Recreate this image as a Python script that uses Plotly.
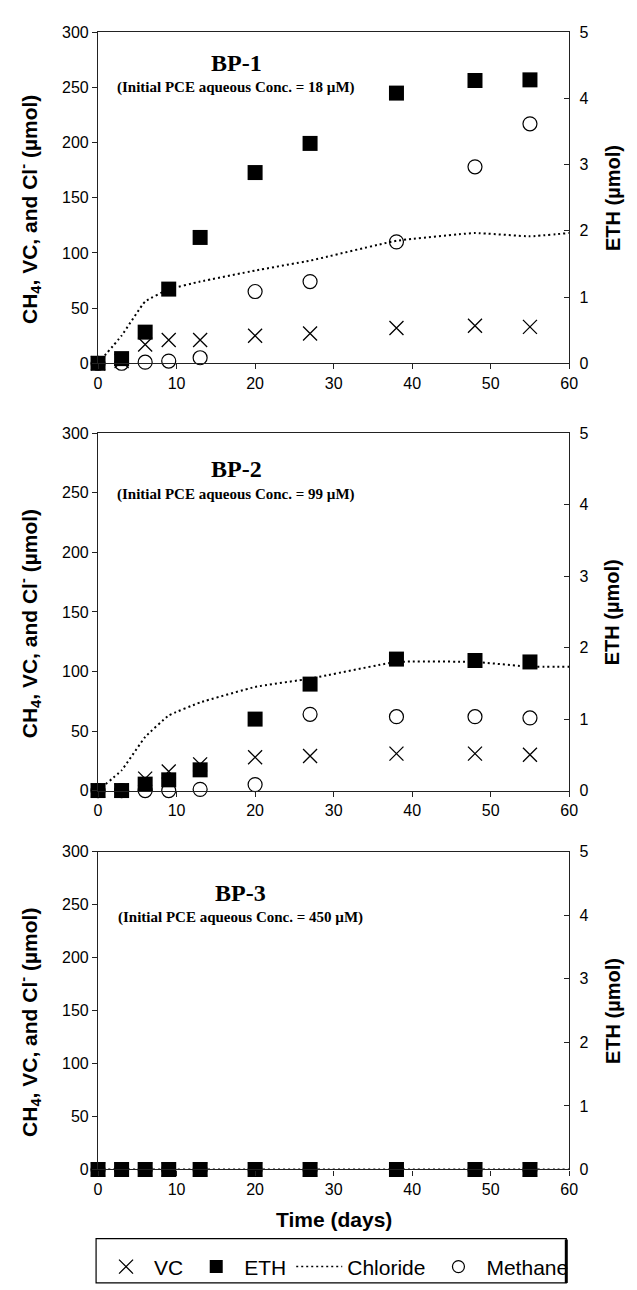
import plotly.graph_objects as go

# ---------------- data ----------------
days = [0, 3, 6, 9, 13, 20, 27, 38, 48, 55]
cl_days = [0, 3, 6, 9, 13, 20, 27, 38, 48, 55, 60]

bp1_vc = [0, 2, 17, 21, 21, 25, 27, 32, 34, 33]
bp1_eth = [0, 0.07, 0.47, 1.12, 1.90, 2.88, 3.32, 4.08, 4.27, 4.28]
bp1_cl = [0, 25, 56, 67, 74, 84, 93, 111, 118, 115, 118]
bp1_ch4 = [0, 0, 1, 2, 5, 65, 74, 110, 178, 217]

bp2_vc = [0, 0, 10, 16, 22, 28, 29, 31, 31, 30]
bp2_eth = [0, 0, 0.09, 0.15, 0.29, 1.00, 1.49, 1.84, 1.82, 1.80]
bp2_cl = [0, 17, 45, 63, 74, 87, 94, 108, 108, 104, 104]
bp2_ch4 = [0, 0, 0, 0, 1, 5, 64, 62, 62, 61]

bp3_vc = [0, 0, 0, 0, 0, 0, 0, 0, 0, 0]
bp3_eth = [0, 0, 0, 0, 0, 0, 0, 0, 0, 0]
bp3_cl = [0, 0, 0, 0, 0, 0, 0, 0, 0, 0, 0]
bp3_ch4 = [0, 0, 0, 0, 0, 0, 0, 0, 0, 0]

panel_names = ["BP-1", "BP-2", "BP-3"]
panel_conc = ["18", "99", "450"]
left_ticks = [0, 50, 100, 150, 200, 250, 300]
right_ticks = [0, 1, 2, 3, 4, 5]
x_ticks = [0, 10, 20, 30, 40, 50, 60]

panels = [
    (bp1_vc, bp1_eth, bp1_cl, bp1_ch4),
    (bp2_vc, bp2_eth, bp2_cl, bp2_ch4),
    (bp3_vc, bp3_eth, bp3_cl, bp3_ch4),
]

# ---------------- layout geometry (pixels) ----------------
W, H = 637, 1290
x_left, x_right = 96, 577
panel_px = [(24.5, 360), (431, 793), (855, 1177)]
title_x = [17.6, 17.6, 18.2]
title_y = [272, 270, 261]
sub_y = [250, 249, 238]

SANS = "Liberation Sans, Arial, sans-serif"
SERIF = "Liberation Serif, Times New Roman, serif"
AXC = "#222222"

fig = go.Figure()
layout = dict(
    width=W, height=H,
    margin=dict(l=0, r=0, t=0, b=0),
    paper_bgcolor="white", plot_bgcolor="white",
    showlegend=True,
    font=dict(family=SANS, size=16, color="black"),
)
annotations = []

for i, (vc, eth, cl, ch4) in enumerate(panels):
    xa = "x" if i == 0 else f"x{i+1}"
    yl = f"y{2*i+1}" if i > 0 else "y"
    yr = f"y{2*i+2}"
    xkey = "xaxis" if i == 0 else f"xaxis{i+1}"
    ylkey = "yaxis" if i == 0 else f"yaxis{2*i+1}"
    yrkey = f"yaxis{2*i+2}"
    top, bot = panel_px[i]
    dom = [1 - bot / H, 1 - top / H]
    show = (i == 0)

    fig.add_trace(go.Scatter(
        x=days, y=vc, xaxis=xa, yaxis=yl, mode="markers", name="VC",
        legendgroup="vc", showlegend=show, cliponaxis=False,
        marker=dict(symbol="x-thin-open", size=14, color="black",
                    line=dict(width=1.3, color="black"))))
    fig.add_trace(go.Scatter(
        x=cl_days, y=cl, xaxis=xa, yaxis=yl, mode="lines", name="Chloride",
        legendgroup="cl", showlegend=False, cliponaxis=False,
        line=dict(color="black", width=2, dash="2px,3px", shape="spline", smoothing=0.3)))
    fig.add_trace(go.Scatter(
        x=days, y=ch4, xaxis=xa, yaxis=yl, mode="markers", name="Methane",
        legendgroup="ch4", showlegend=False, cliponaxis=False,
        marker=dict(symbol="circle-open", size=14, color="black",
                    line=dict(width=1.2, color="black"))))
    fig.add_trace(go.Scatter(
        x=days, y=eth, xaxis=xa, yaxis=yr, mode="markers", name="ETH",
        legendgroup="eth", showlegend=False, cliponaxis=False,
        marker=dict(symbol="square", size=15, color="black",
                    line=dict(width=0))))

    layout[xkey] = dict(
        domain=[x_left / W, x_right / W], anchor=yl, range=[0, 60],
        tickvals=x_ticks, ticks="outside", ticklen=5, tickwidth=1.2, tickcolor=AXC,
        showline=True, linecolor=AXC, linewidth=1.3, mirror=True,
        showgrid=False, zeroline=False, tickfont=dict(size=16, family=SANS))
    layout[ylkey] = dict(
        domain=dom, anchor=xa, range=[0, 300],
        tickvals=left_ticks, ticks="outside", ticklen=5, tickwidth=1.2, tickcolor=AXC,
        showline=True, linecolor=AXC, linewidth=1.3,
        showgrid=False, zeroline=False, tickfont=dict(size=16, family=SANS))
    layout[yrkey] = dict(
        domain=dom, anchor=xa, overlaying=yl, side="right", range=[0, 5],
        tickvals=right_ticks, ticks="inside", ticklen=5, tickwidth=1.2, tickcolor=AXC,
        showline=True, linecolor=AXC, linewidth=1.3,
        showgrid=False, zeroline=False, tickfont=dict(size=16, family=SANS),
        ticklabelstandoff=6)

    mid = 1 - ((top + bot) / 2) / H
    annotations.append(dict(
        x=26 / W, y=mid - 12 / H, xref="paper", yref="paper", textangle=-90,
        text="<b>CH<sub>4</sub>, VC, and Cl<sup>-</sup> (µmol)</b>",
        showarrow=False, font=dict(size=21, family=SANS), xanchor="center", yanchor="middle"))
    annotations.append(dict(
        x=621 / W, y=mid, xref="paper", yref="paper", textangle=-90,
        text="<b>ETH (µmol)</b>",
        showarrow=False, font=dict(size=20, family=SANS), xanchor="center", yanchor="middle"))
    annotations.append(dict(
        x=title_x[i], y=title_y[i], xref=xa, yref=yl, text=f"<b>{panel_names[i]}</b>",
        showarrow=False, font=dict(size=24, family=SERIF), xanchor="center", yanchor="middle"))
    annotations.append(dict(
        x=title_x[i], y=sub_y[i], xref=xa, yref=yl,
        text=f"<b>(Initial PCE aqueous Conc. = {panel_conc[i]} µM)</b>",
        showarrow=False, font=dict(size=15, family=SERIF), xanchor="center", yanchor="middle"))

annotations.append(dict(
    x=(x_left + x_right) / 2 / W, y=1 - 1228 / H, xref="paper", yref="paper",
    text="<b>Time (days)</b>", showarrow=False, font=dict(size=21, family=SANS),
    xanchor="center", yanchor="middle"))

# legend-only traces in display order
fig.data[0].showlegend = True
fig.add_trace(go.Scatter(x=[None], y=[None], mode="markers", name="ETH", legendgroup="eth",
                         marker=dict(symbol="square", size=13, color="black")))
fig.add_trace(go.Scatter(x=[None], y=[None], mode="lines", name="Chloride", legendgroup="cl",
                         line=dict(color="black", width=1.5, dash="2px,3px")))
fig.add_trace(go.Scatter(x=[None], y=[None], mode="markers", name="Methane", legendgroup="ch4",
                         marker=dict(symbol="circle-open", size=12, color="black",
                                     line=dict(width=1.2, color="black"))))

layout["legend"] = dict(
    orientation="h", x=96 / W, y=1 - 1255 / H, xanchor="left", yanchor="top",
    borderwidth=0, bgcolor="rgba(0,0,0,0)",
    font=dict(size=21, family=SANS), traceorder="normal", itemwidth=46)
layout["annotations"] = annotations
layout["shapes"] = [
    dict(type="rect", xref="paper", yref="paper",
         x0=94 / W, x1=574 / W, y0=-2 / H, y1=1 - 1247 / H,
         line=dict(color="black", width=1.2), layer="below"),
    dict(type="line", xref="paper", yref="paper",
         x0=574 / W, x1=574 / W, y0=-2 / H, y1=1 - 1248 / H,
         line=dict(color="black", width=3)),
]
fig.update_layout(**layout)
fig.write_html("out.html", config={"displayModeBar": False},
               post_script="document.body.style.margin='0px';document.body.style.overflow='hidden';")
